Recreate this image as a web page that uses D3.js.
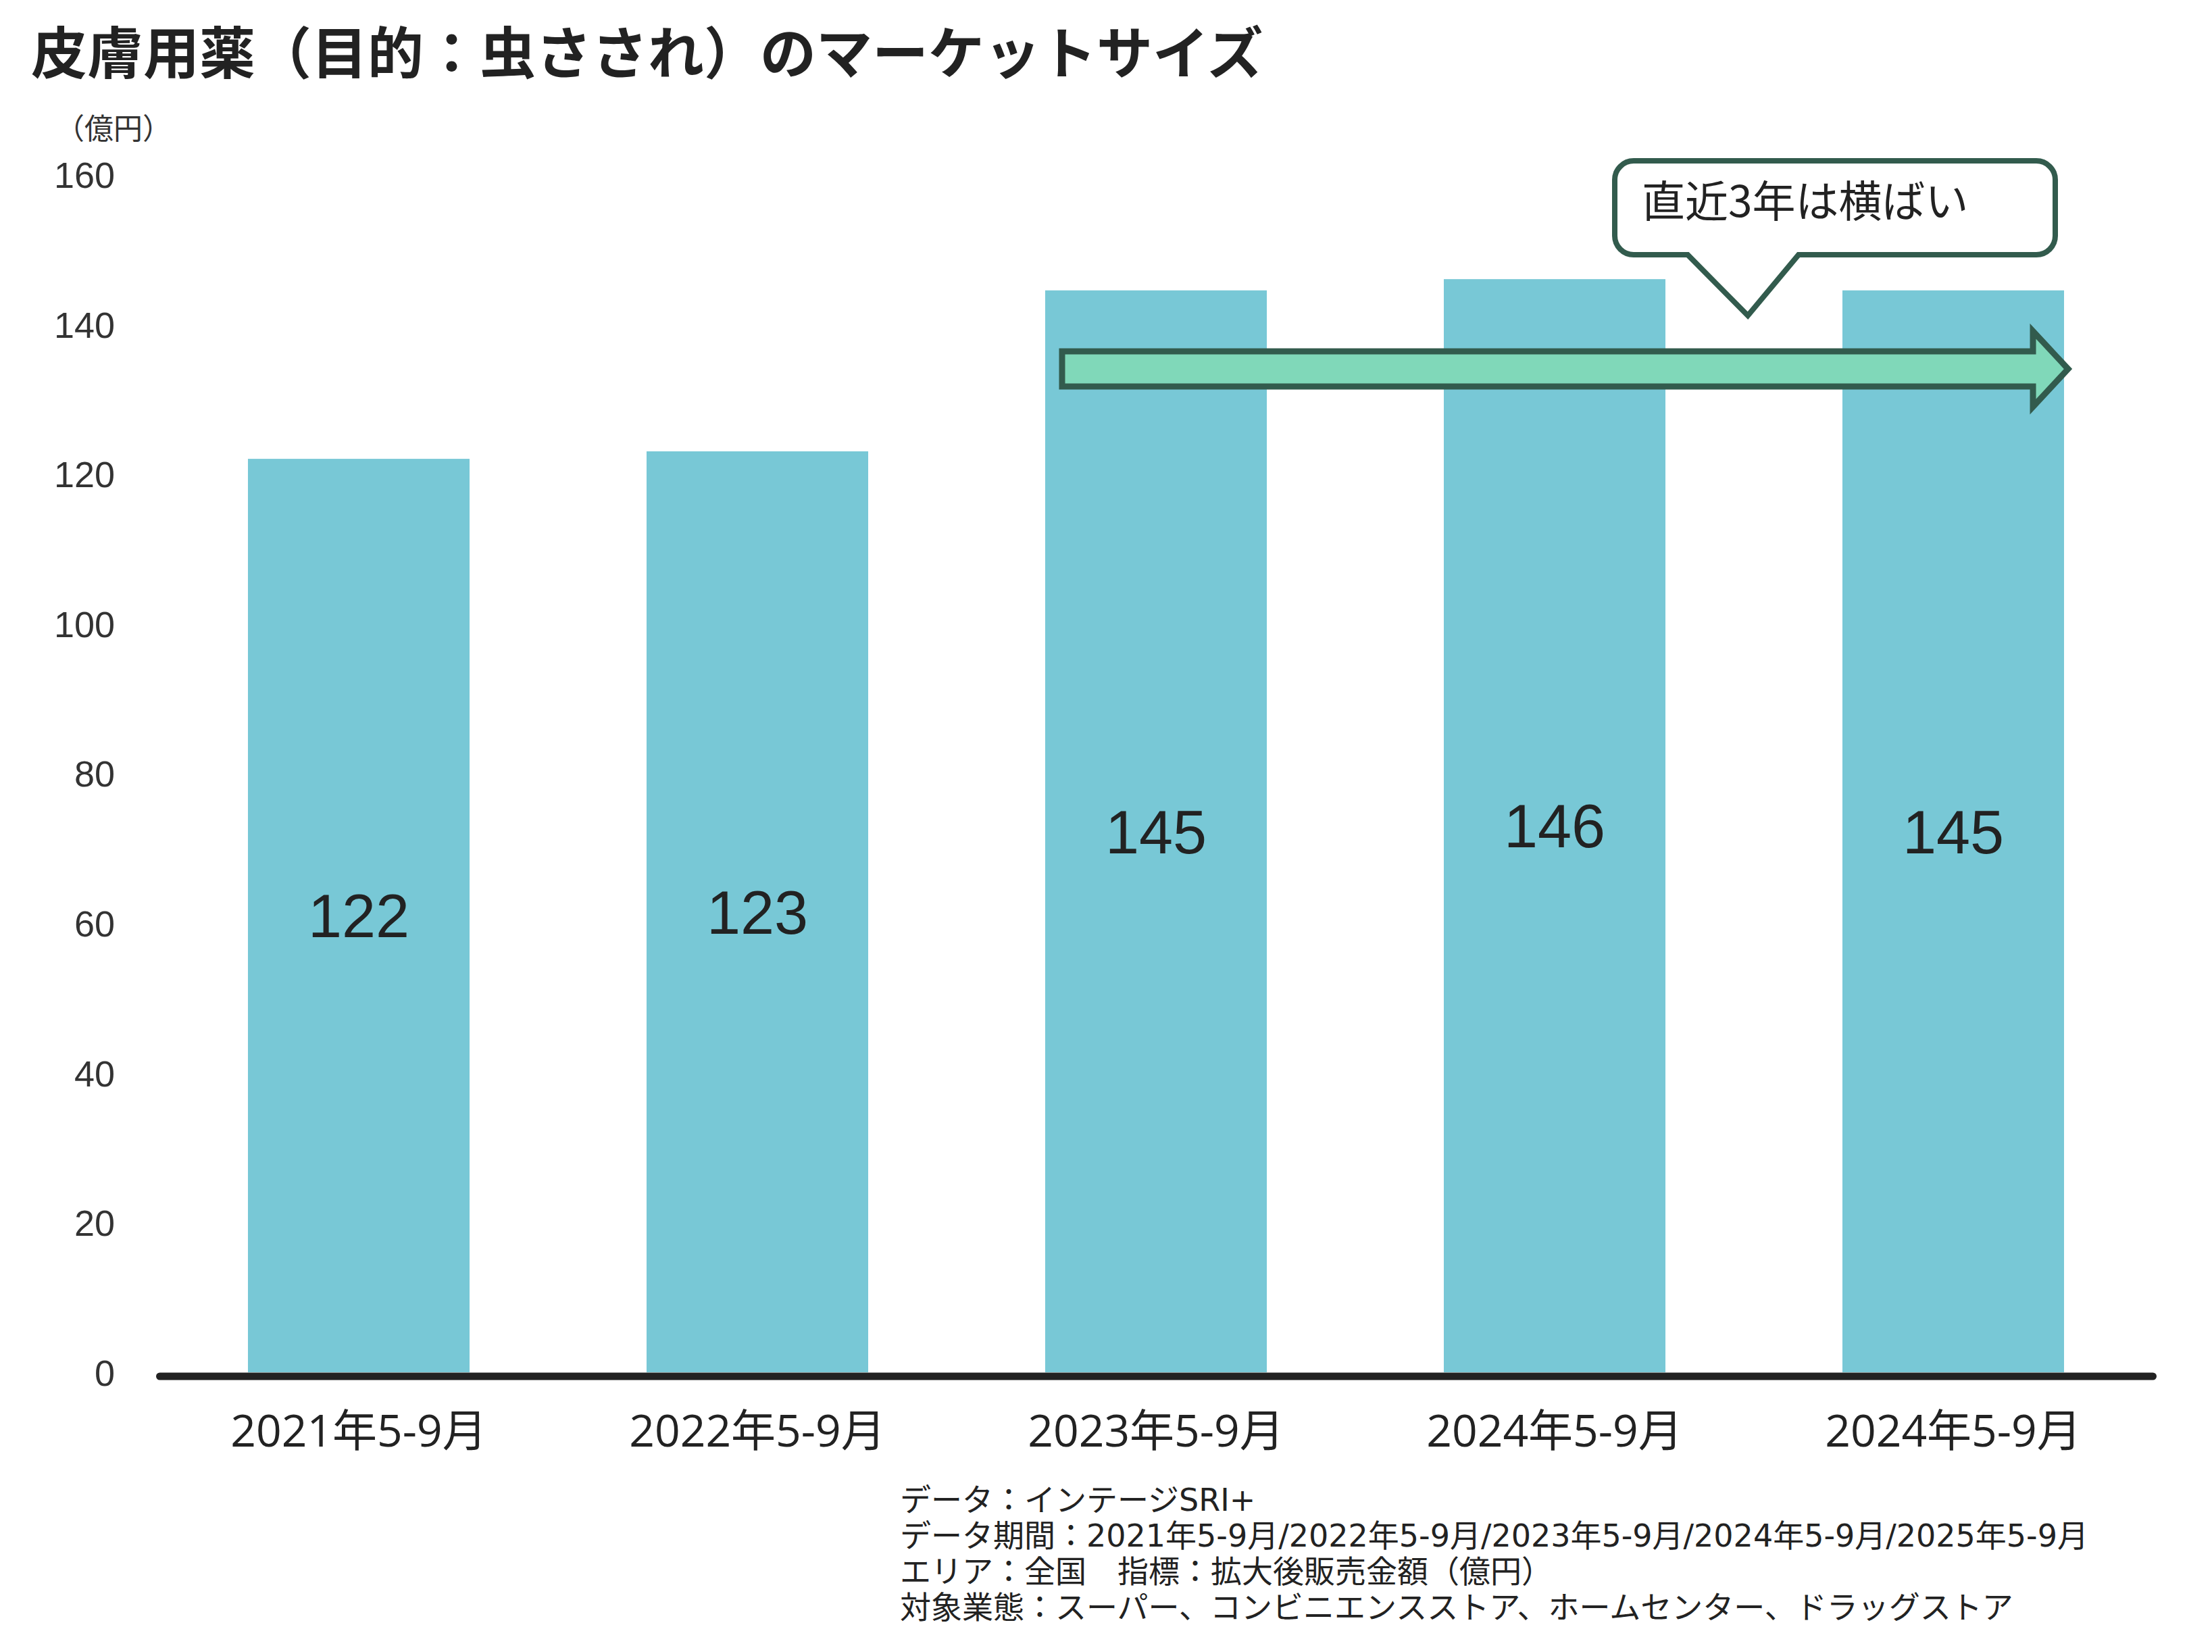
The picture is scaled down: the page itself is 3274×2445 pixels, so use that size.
<!DOCTYPE html>
<html>
<head>
<meta charset="utf-8">
<script src="https://cdn.jsdelivr.net/npm/d3@7"></script>
<style>
  body { margin: 0; background: #fff; }
  svg { display: block; }
</style>
</head>
<body>
<div id="chart"></div>
<script>
"use strict";

// chart data
var categories = ["2021年5-9月", "2022年5-9月", "2023年5-9月", "2024年5-9月", "2024年5-9月 "];
var labels = ["2021年5-9月", "2022年5-9月", "2023年5-9月", "2024年5-9月", "2024年5-9月"];
var sales = [122, 123, 144.5, 146, 144.5];   // 億円, labels are rounded
var yTicks = [0, 20, 40, 60, 80, 100, 120, 140, 160];
var trendLevel = 134;   // level of the flat-trend arrow
var titleText = "皮膚用薬（目的：虫さされ）のマーケットサイズ";
var unitText = "（億円）";
var calloutText = "直近3年は横ばい";
var notes = [
  "データ：インテージSRI+",
  "データ期間：2021年5-9月/2022年5-9月/2023年5-9月/2024年5-9月/2025年5-9月",
  "エリア：全国　指標：拡大後販売金額（億円）",
  "対象業態：スーパー、コンビニエンスストア、ホームセンター、ドラッグストア"
];

var W = 3274, H = 2445;
var jp = "'Noto Sans CJK JP', 'Noto Sans', sans-serif";
var jpLabel = "'Open Sans', 'Noto Sans CJK JP', sans-serif";
var jpNote = "'DejaVu Sans', 'Noto Sans CJK JP', sans-serif";
var num = "'Liberation Sans', Arial, sans-serif";
var barColor = "#78c8d6";
var darkGreen = "#325b4d";
var fmt = d3.format(".0f");

var svg = d3.select("#chart").append("svg")
  .attr("width", W).attr("height", H);

var x = d3.scaleBand()
  .domain(categories)
  .range([236, 3186])
  .paddingInner(0.444)
  .paddingOuter(0.222);

var y = d3.scaleLinear()
  .domain([0, 160])
  .range([2031, 258]);

// title
svg.append("text")
  .attr("x", 46).attr("y", 73)
  .attr("dominant-baseline", "central")
  .style("font-family", jp).style("font-weight", 700)
  .style("font-size", "83px").style("fill", "#222")
  .text(titleText);

// unit label
svg.append("text")
  .attr("x", 82).attr("y", 187)
  .attr("dominant-baseline", "central")
  .style("font-family", jp).style("font-size", "43px").style("fill", "#333")
  .text(unitText);

// y axis (labels only)
var yAxis = d3.axisLeft(y).tickValues(yTicks).tickSize(0).tickPadding(0);
var gy = svg.append("g")
  .attr("transform", "translate(170,0)")
  .call(yAxis);
gy.select(".domain").remove();
gy.selectAll("text")
  .attr("dy", "0.36em")
  .style("font-family", num).style("font-size", "54px").style("fill", "#333");

// bars
svg.append("g").selectAll("rect")
  .data(sales)
  .join("rect")
    .attr("x", (d, i) => x(categories[i]))
    .attr("y", d => y(d))
    .attr("width", x.bandwidth())
    .attr("height", d => y(0) - y(d))
    .style("fill", barColor);

// value labels
svg.append("g").selectAll("text")
  .data(sales)
  .join("text")
    .attr("x", (d, i) => x(categories[i]) + x.bandwidth() / 2)
    .attr("y", d => (y(d) + y(0)) / 2)
    .attr("dy", "0.36em")
    .attr("text-anchor", "middle")
    .style("font-family", num).style("font-size", "90px").style("fill", "#222")
    .text(d => fmt(d));

// x axis with the thick baseline
var xAxis = d3.axisBottom(x).tickSize(0).tickSizeOuter(0).tickPadding(58)
  .tickFormat((d, i) => labels[i]);
var gx = svg.append("g")
  .attr("transform", "translate(0," + (y(0) + 5.5) + ")")
  .call(xAxis);
gx.select(".domain")
  .attr("stroke", "#222")
  .attr("stroke-width", 11)
  .attr("stroke-linecap", "round");
gx.selectAll("text")
  .style("font-family", jpLabel).style("font-size", "66px").style("fill", "#222");

// flat-trend arrow
var ay = y(trendLevel);
var ax0 = x(categories[2]) + 25;
var axTip = x(categories[4]) + x.bandwidth() + 6;
var axBase = axTip - 52;
var shaft = 26, head = 56;
var arrowPts = [
  [ax0, ay - shaft], [axBase, ay - shaft], [axBase, ay - head], [axTip, ay],
  [axBase, ay + head], [axBase, ay + shaft], [ax0, ay + shaft]
];
svg.append("path")
  .attr("d", d3.line()(arrowPts) + "Z")
  .style("fill", "#80d8b9")
  .style("stroke", darkGreen)
  .style("stroke-width", 9)
  .style("stroke-linejoin", "miter");

// callout bubble
var tipX = (x(categories[3]) + x.bandwidth() + x(categories[4])) / 2 - 9;
var tipY = ay - 79;
var bx0 = tipX - 197, bx1 = tipX + 455, by0 = tipY - 229, by1 = tipY - 90, r = 28;
var pl = tipX - 89, pr = tipX + 75;
var bubble = d3.path();
bubble.moveTo(bx0 + r, by0);
bubble.lineTo(bx1 - r, by0);
bubble.arcTo(bx1, by0, bx1, by0 + r, r);
bubble.lineTo(bx1, by1 - r);
bubble.arcTo(bx1, by1, bx1 - r, by1, r);
bubble.lineTo(pr, by1);
bubble.lineTo(tipX, tipY);
bubble.lineTo(pl, by1);
bubble.lineTo(bx0 + r, by1);
bubble.arcTo(bx0, by1, bx0, by1 - r, r);
bubble.lineTo(bx0, by0 + r);
bubble.arcTo(bx0, by0, bx0 + r, by0, r);
bubble.closePath();
svg.append("path")
  .attr("d", bubble.toString())
  .style("fill", "#fff")
  .style("stroke", darkGreen)
  .style("stroke-width", 8);

svg.append("text")
  .attr("x", bx0 + 40).attr("y", by0 + 55)
  .attr("dominant-baseline", "central")
  .style("font-family", jp).style("font-size", "64px").style("fill", "#222")
  .text(calloutText);

// source notes
svg.append("g").selectAll("text")
  .data(notes)
  .join("text")
    .attr("x", 1332)
    .attr("y", (d, i) => 2220 + i * 53)
    .attr("dominant-baseline", "central")
    .style("font-family", jpNote).style("font-size", "46px").style("fill", "#222")
    .text(d => d);
</script>
</body>
</html>
